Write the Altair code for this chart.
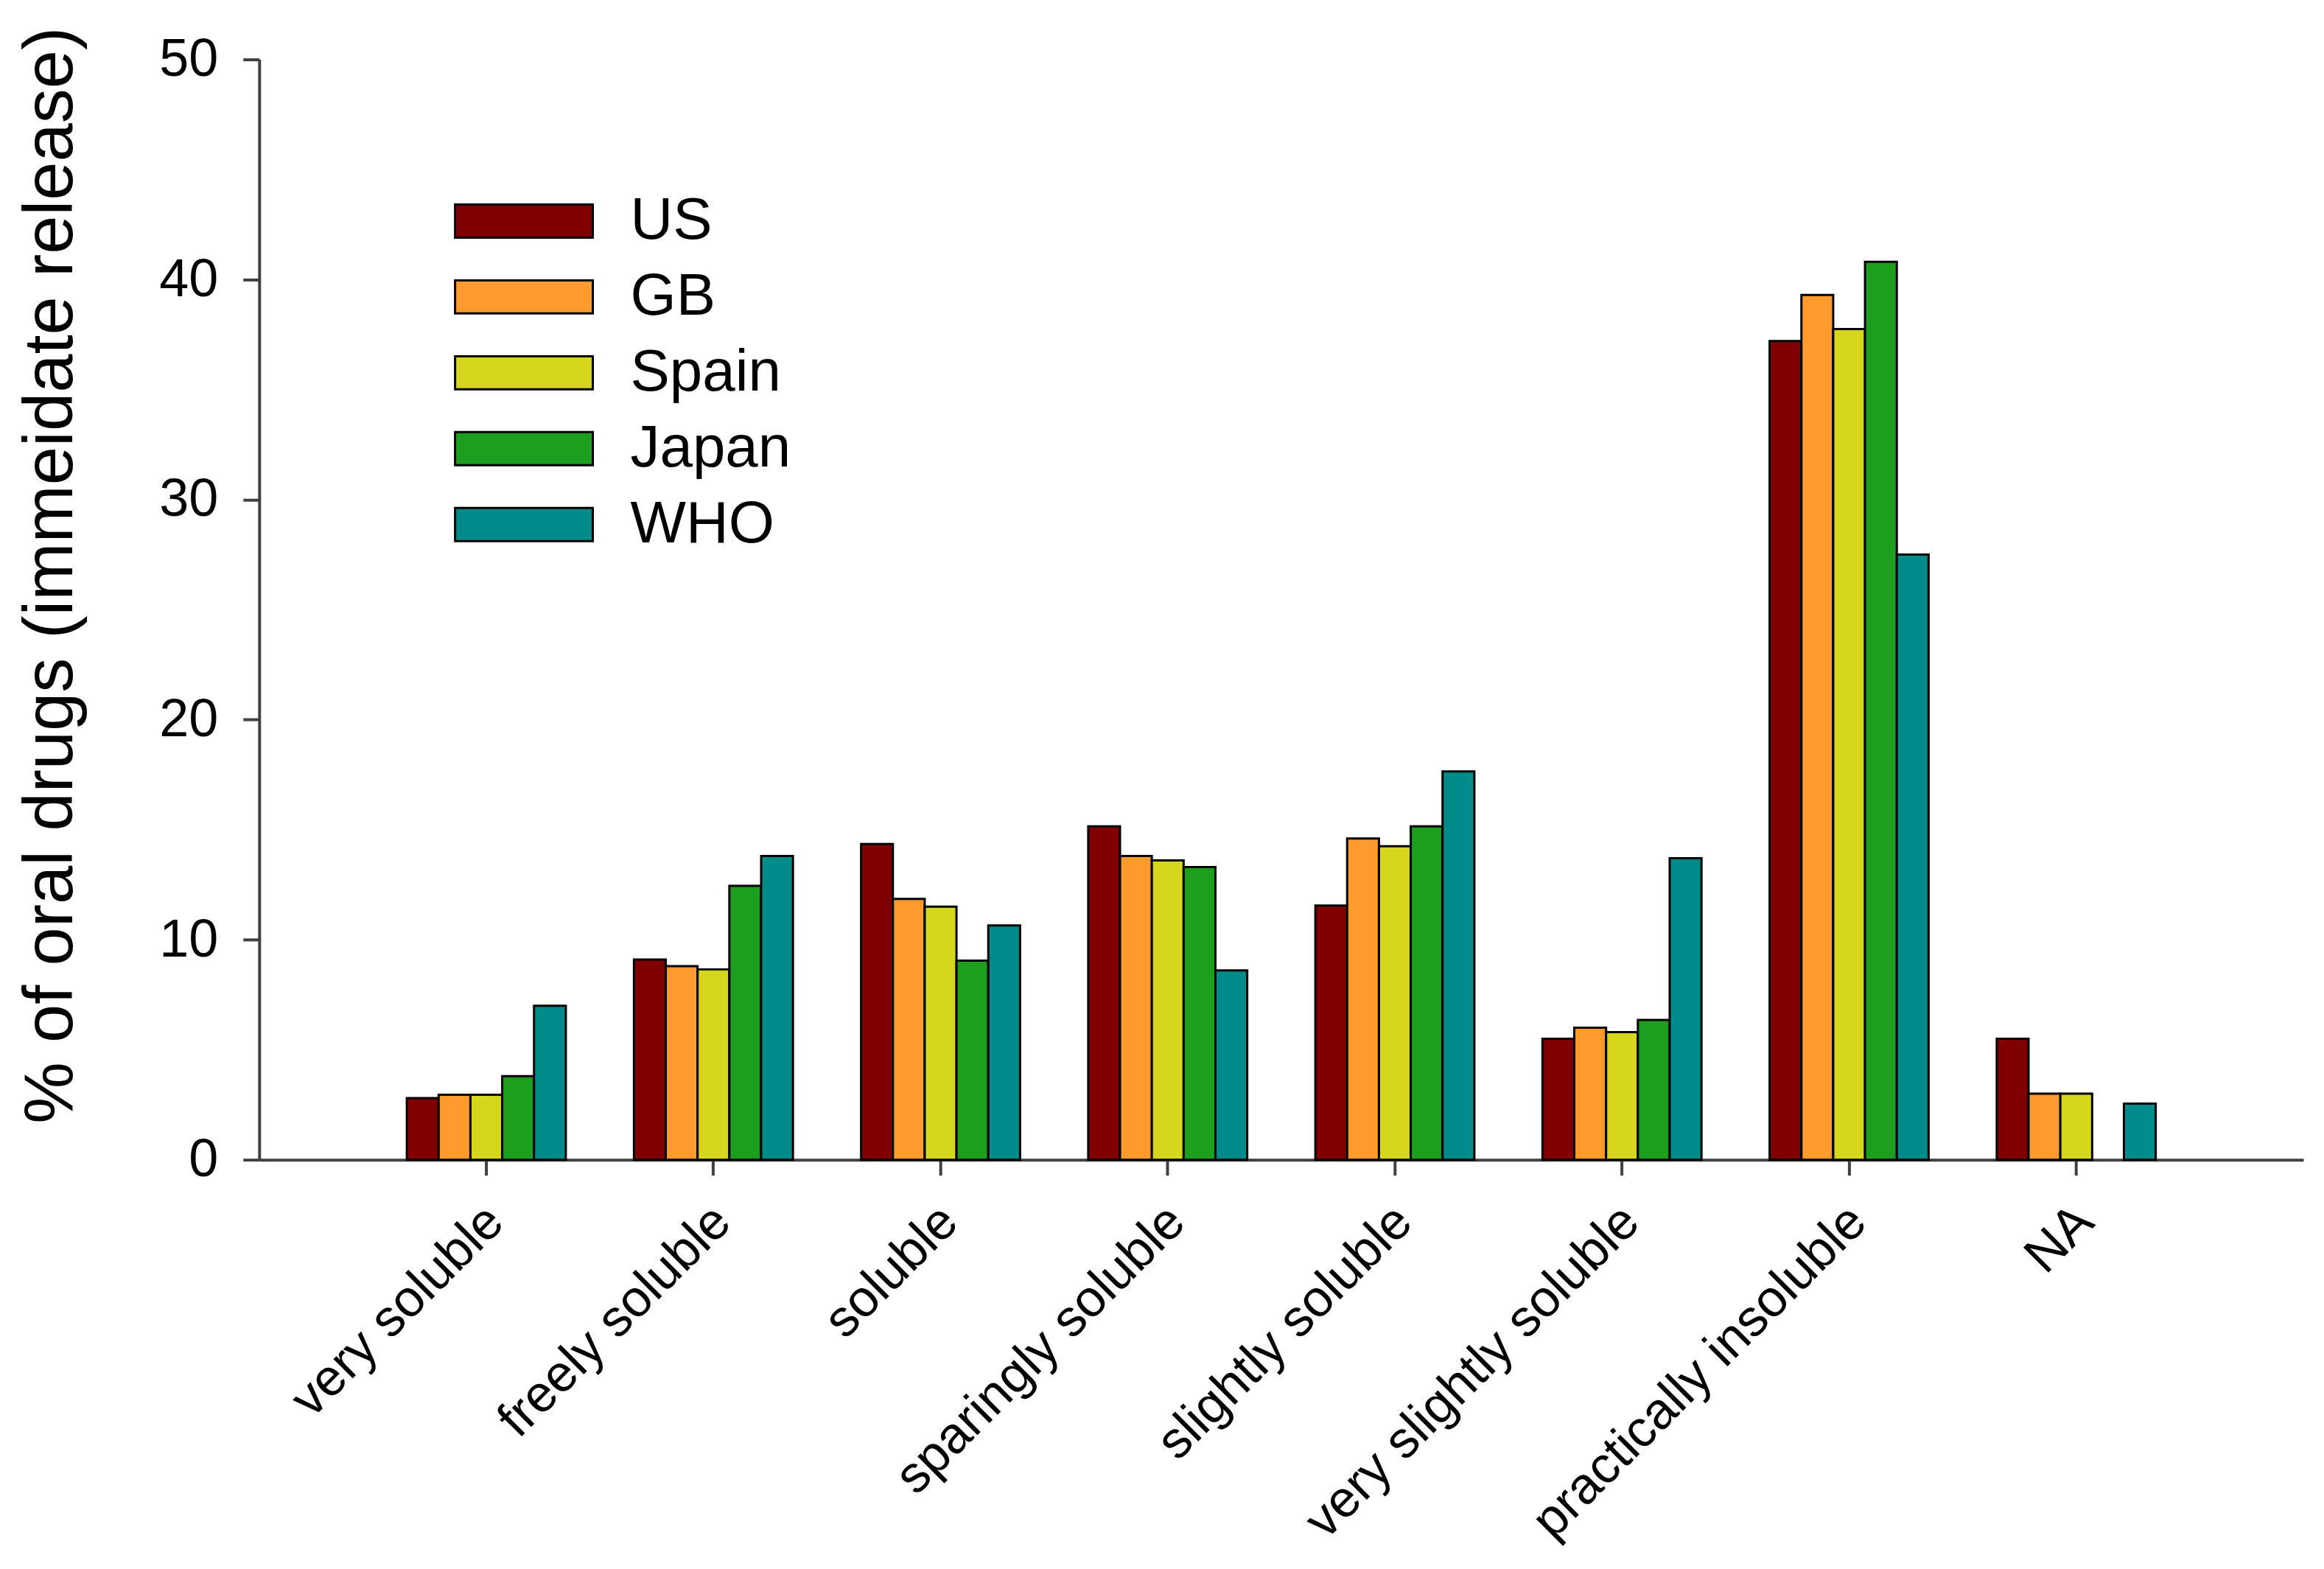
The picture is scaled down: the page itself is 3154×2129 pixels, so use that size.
import altair as alt
import pandas as pd

categories = ["very soluble", "freely soluble", "soluble", "sparingly soluble",
              "slightly soluble", "very slightly soluble", "practically insoluble", "NA"]
series = ["US", "GB", "Spain", "Japan", "WHO"]

us = [2.8, 9.1, 14.35, 15.15, 11.55, 5.5, 37.2, 5.5]
gb = [2.95, 8.8, 11.85, 13.8, 14.6, 6.0, 39.3, 3.0]
spain = [2.95, 8.65, 11.5, 13.6, 14.25, 5.8, 37.75, 3.0]
japan = [3.8, 12.45, 9.05, 13.3, 15.15, 6.35, 40.8, None]
who = [7.0, 13.8, 10.65, 8.6, 17.65, 13.7, 27.5, 2.55]

colors = ["#800000", "#FF9A2E", "#D6D61E", "#1E9E1E", "#008B8B"]

rows = []
for name, vals in zip(series, [us, gb, spain, japan, who]):
    for cat, v in zip(categories, vals):
        if v is not None:
            rows.append({"category": cat, "series": name, "value": v})
df = pd.DataFrame(rows)

FONT = "Liberation Sans"

chart = alt.Chart(df).mark_bar(stroke="black", strokeWidth=3).encode(
    x=alt.X("category:N", sort=categories,
            scale=alt.Scale(paddingInner=0.3, paddingOuter=0.65),
            axis=alt.Axis(title=None, labelAngle=315, labelAlign="right",
                          labelBaseline="top", labelOffset=-12, labelPadding=28,
                          tickSize=21, labelFontSize=70, labelFont=FONT,
                          labelColor="black", labelLimit=2000, labelOverlap=False,
                          labelBound=False, labelFlush=False)),
    xOffset=alt.XOffset("series:N", sort=series,
                        scale=alt.Scale(paddingInner=0, paddingOuter=0)),
    y=alt.Y("value:Q", scale=alt.Scale(domain=[0, 50], nice=False),
            axis=alt.Axis(values=[0, 10, 20, 30, 40, 50],
                          title="% of oral drugs (immeidate release)",
                          titleFontSize=94, titleFont=FONT, titleFontWeight="normal",
                          titleColor="black", titleX=-282, titleY=700,
                          titleBaseline="middle", titleAlign="center",
                          tickSize=22, labelPadding=34, labelFontSize=72,
                          labelFont=FONT, labelColor="black", grid=False)),
    color=alt.Color("series:N", sort=series,
                    scale=alt.Scale(domain=series, range=colors),
                    legend=alt.Legend(title=None, orient="none", legendX=311, legendY=171,
                                      symbolType="M-2,-0.48H2V0.48H-2Z",
                                      symbolSize=8742, symbolStrokeColor="black",
                                      symbolStrokeWidth=3, symbolOpacity=1,
                                      labelFontSize=80, labelFont=FONT,
                                      labelColor="black", labelOffset=96,
                                      labelLimit=1000, rowPadding=14)),
).properties(
    width=2776, height=1494,
    padding={"left": 344, "top": 72, "right": 20, "bottom": 540},
    autosize=alt.AutoSizeParams(type="none"),
).configure_view(stroke=None).configure_axis(
    domainColor="#404040", domainWidth=4, tickColor="#404040", tickWidth=4,
)

chart.save("out.html", embed_options={"renderer": "svg", "actions": False})
